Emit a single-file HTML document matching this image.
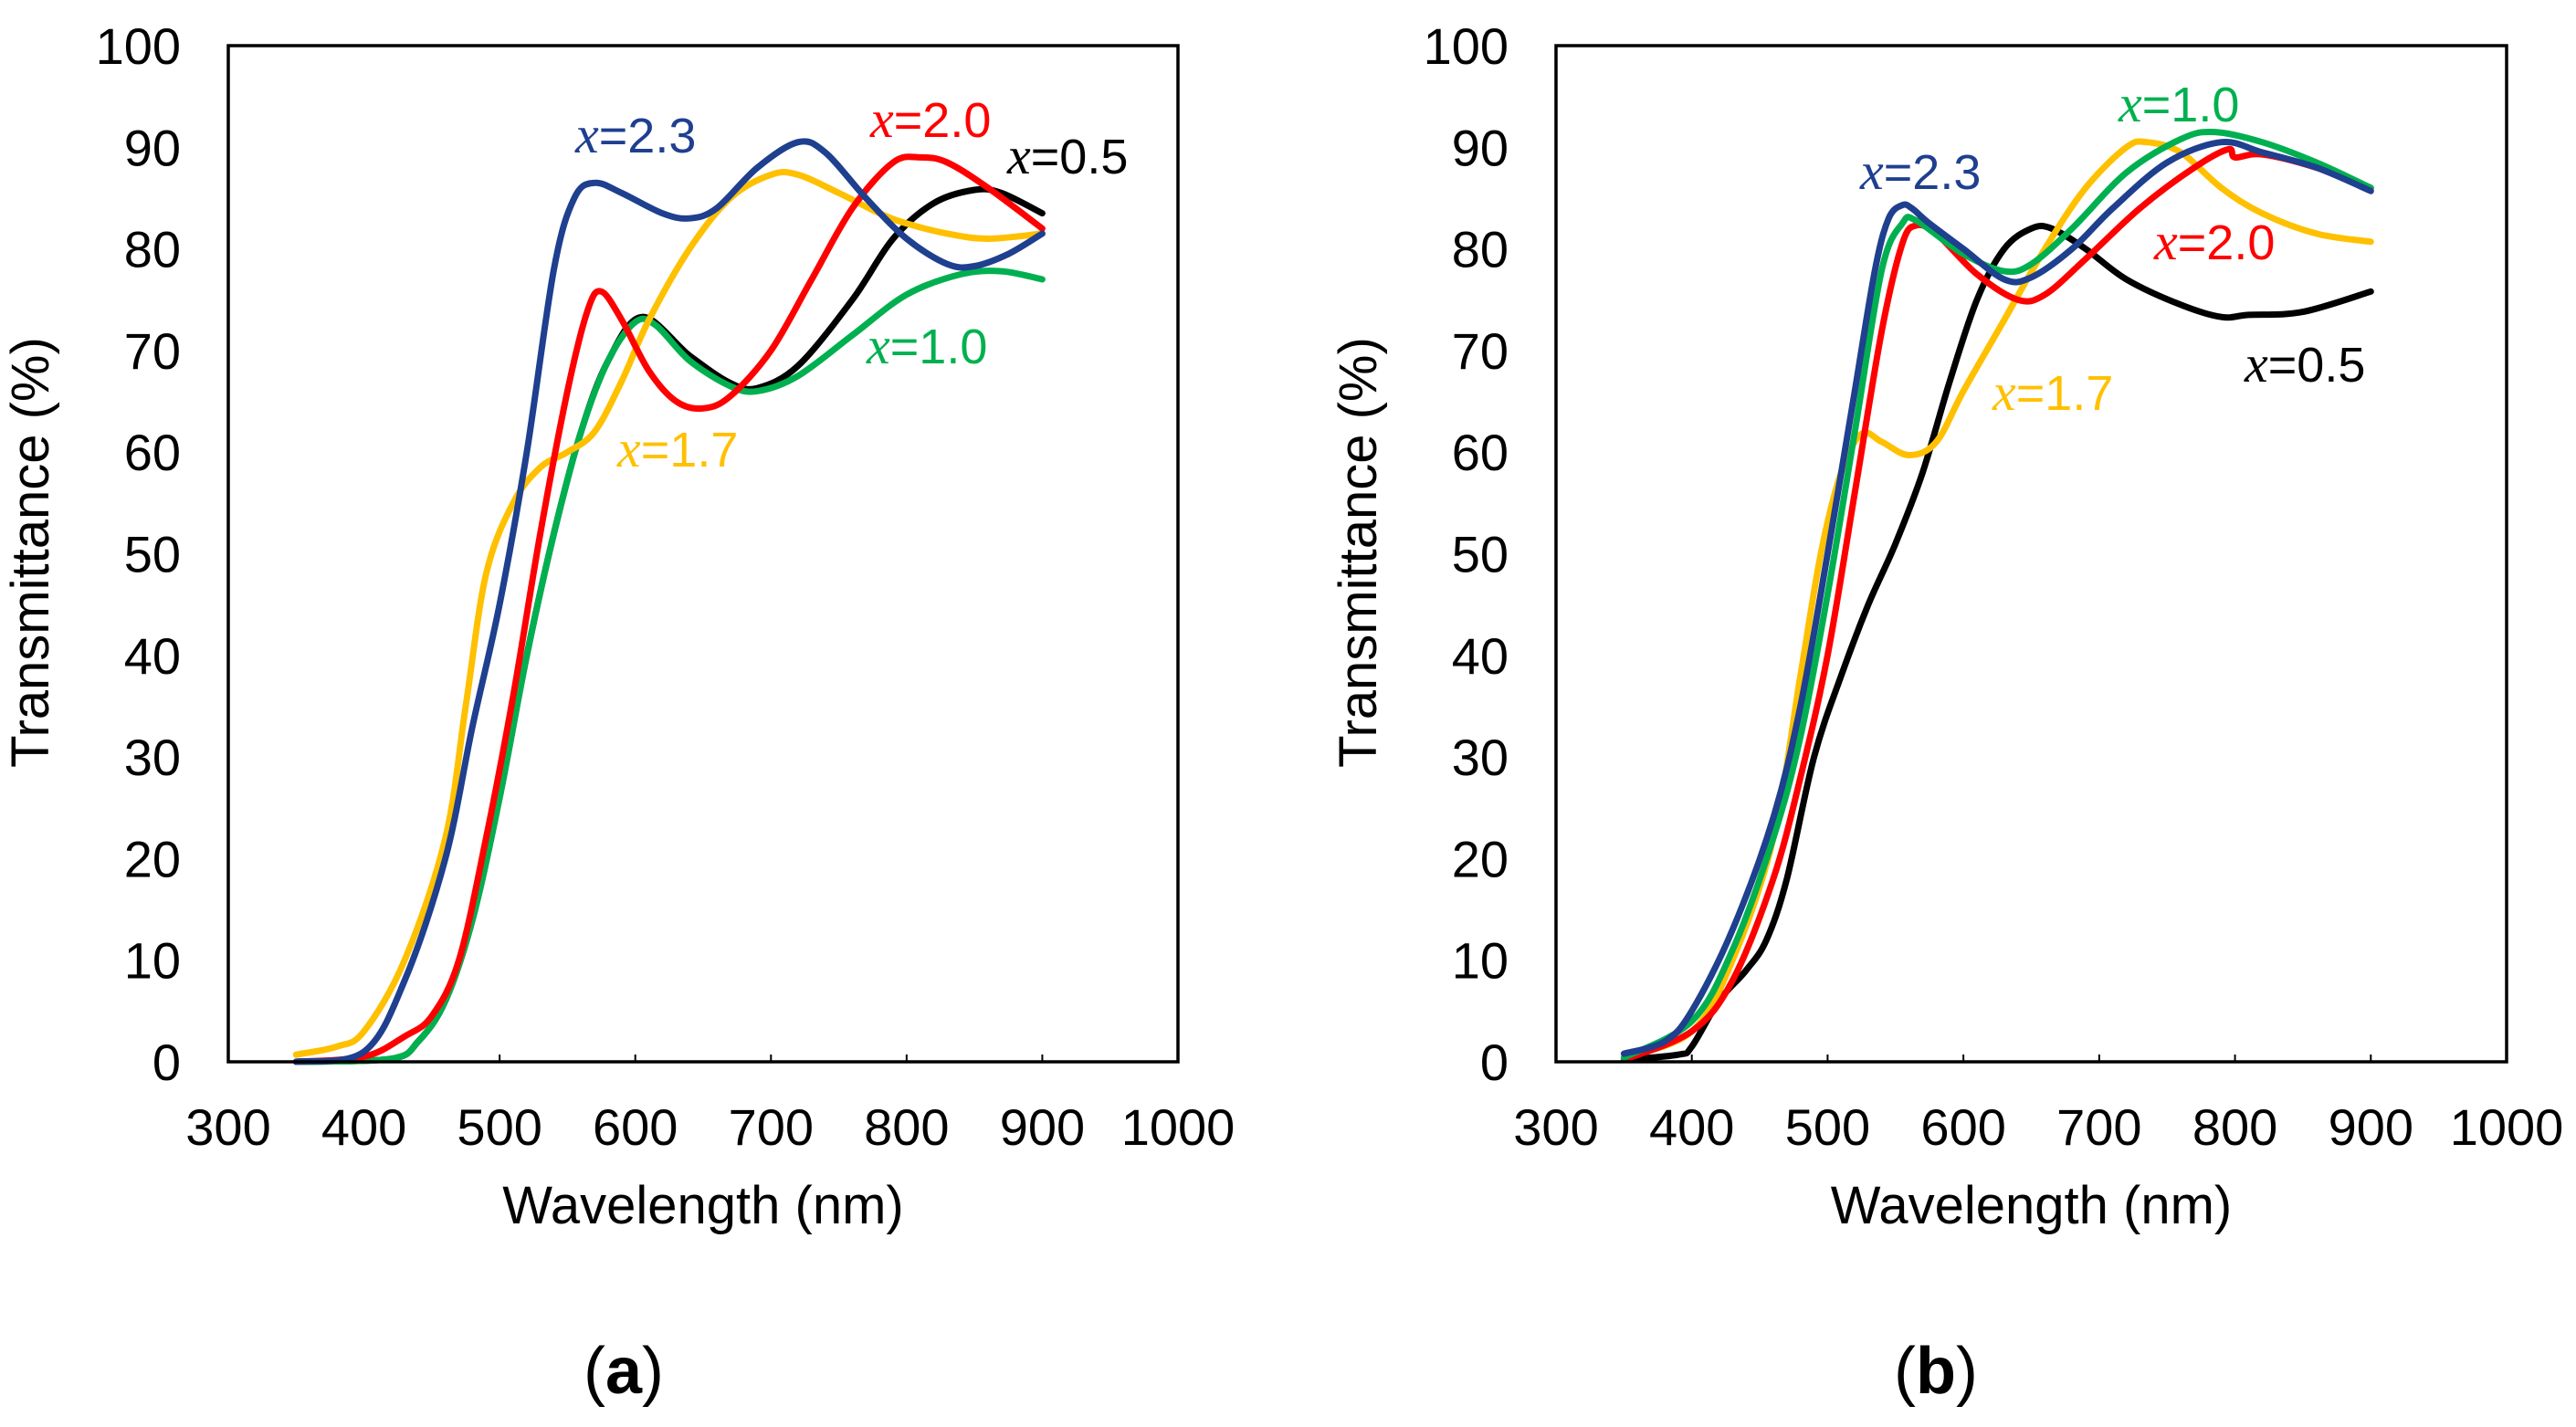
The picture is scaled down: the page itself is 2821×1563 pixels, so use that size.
<!DOCTYPE html>
<html><head><meta charset="utf-8"><style>
body{margin:0;background:#fff}
svg{display:block}
text{font-family:"Liberation Sans",sans-serif}
</style></head><body>
<svg id="c" width="2821" height="1563" viewBox="0 0 2821 1563" xmlns="http://www.w3.org/2000/svg"></svg>
<script>
const xTicks=[300,400,500,600,700,800,900,1000];
const yTicks=[0,10,20,30,40,50,60,70,80,90,100];
const colors={k:'#000000',g:'#00b050',b:'#1f3f8f',r:'#ff0000',y:'#ffc000'};
// panel (a)
const aBlueX=[350,400,430,460,480,500,520,540,555,570,590,620,640,660,690,720,740,770,800,830,850,875,900];
const aBlueY=[0,1,8,20,33,45,60,78,85,86.5,85.5,83.5,83,84,88,90.5,89.5,85,81,78.5,78.3,79.5,81.5];
const aYelX=[350,380,400,430,460,475,490,510,530,550,570,590,610,640,670,700,720,750,780,800,830,860,900];
const aYelY=[0.7,1.5,3,10,22,35,48,55,58.5,60,62,67,73,80,85,87.3,87.3,85.5,83.5,82.5,81.5,81,81.5];
const aRedX=[350,400,430,450,470,490,510,530,550,565,575,590,610,630,650,670,700,730,760,790,810,830,860,900];
const aRedY=[0,0.5,2.5,4.5,10,22,36,52,66,74,75.8,73,68,65,64.3,65.5,70,77,84,88.5,89,88.5,86,82];
const aGrnX=[350,420,440,460,480,500,520,540,560,580,600,615,640,670,690,720,760,800,840,870,900];
const aGrnY=[0,0.3,2,6,14,26,40,52,62,69,72.8,72.5,69,66.5,66,67.5,71.5,75.5,77.5,77.8,77];
const aBlkX=[350,420,440,460,480,500,520,540,560,580,605,640,670,690,720,760,790,820,850,870,900];
const aBlkY=[0,0.3,2,6,14,26,40,52,62,69,73.3,69.5,66.8,66.3,68.5,75,81,84.5,85.8,85.5,83.5];
// panel (b)
const bBlueX=[350,380,400,430,460,480,500,520,535,545,555,562,575,600,630,650,680,710,750,790,820,860,900];
const bBlueY=[0.8,2,5,13,24,35,50,66,78,83,84.3,84,82.5,80,77,77.2,80,84,88.5,90.5,89.5,88,85.7];
const bGrnX=[350,400,430,460,480,500,520,540,555,565,600,630,650,680,720,760,785,820,860,900];
const bGrnY=[0.4,4,11,22,32,46,62,78,82.5,82.8,79.5,77.8,78.5,82,87.5,90.8,91.5,90.5,88.5,86];
const bRedX=[350,400,430,460,480,500,520,540,555,565,580,610,640,660,690,730,770,795,800,820,860,900];
const bRedY=[0.2,3,8,18,28,40,56,72,80.5,82.3,81.5,77.5,75,75.5,79,84,88,89.8,89,89.3,88,86];
const bYelX=[350,400,430,460,480,495,510,525,540,560,580,600,630,660,690,720,735,760,790,820,860,900];
const bYelY=[0.4,3,10,22,38,50,58,61.8,61,59.7,61,66,73,80,86,90,90.5,89.5,86,83.5,81.5,80.7];
const bBlkX=[350,390,400,420,440,455,470,490,510,530,550,570,590,610,630,650,665,690,720,760,790,810,850,900];
const bBlkY=[0.2,0.7,1.5,6,9,12,18,30,38,45,51,58,67,75,80,82,82,80,77,74.5,73.3,73.5,73.8,75.8];

const NS='http://www.w3.org/2000/svg';
const svg=document.getElementById('c');
function mk(tag,attrs,parent){const e=document.createElementNS(NS,tag);for(const k in attrs)e.setAttribute(k,attrs[k]);(parent||svg).appendChild(e);return e;}
function path(pts){let d='M'+pts[0][0].toFixed(1)+' '+pts[0][1].toFixed(1);
 for(let i=0;i<pts.length-1;i++){const p0=pts[Math.max(0,i-1)],p1=pts[i],p2=pts[i+1],p3=pts[Math.min(pts.length-1,i+2)];
  const c1=[p1[0]+(p2[0]-p0[0])/6,p1[1]+(p2[1]-p0[1])/6],c2=[p2[0]-(p3[0]-p1[0])/6,p2[1]-(p3[1]-p1[1])/6];
  d+=` C${c1[0].toFixed(1)} ${c1[1].toFixed(1)} ${c2[0].toFixed(1)} ${c2[1].toFixed(1)} ${p2[0].toFixed(1)} ${p2[1].toFixed(1)}`;}
 return d;}
function panel(id,L,R,T,B,series,labels,titleX,tag,tagX){
 const g=mk('g',{});
 
 
 const sx=v=>L+(v-300)/700*(R-L), sy=v=>B-v/100*(B-T);
 xTicks.forEach(v=>{
  const t=mk('text',{x:sx(v),y:1254,'font-size':56,'text-anchor':'middle',fill:'#000'},g);t.textContent=v;
  
  
  const tk=mk('line',{x1:sx(v),x2:sx(v),y1:B,y2:B-8,stroke:'#000','stroke-width':2},g);
  
  
 });
 yTicks.forEach(v=>{
  const t=mk('text',{x:L-52,y:sy(v)+20,'font-size':56,'text-anchor':'end',fill:'#000'},g);t.textContent=v;
  
  
 });
 series.forEach(s=>{
  const pts=s.x.map((v,i)=>[sx(v),sy(s.y[i])]);
  const p=mk('path',{d:path(pts),fill:'none',stroke:s.c,'stroke-width':7,'stroke-linejoin':'round','stroke-linecap':'round'},g);
  
  
 });
 const box=mk('rect',{x:L,y:T,width:R-L,height:B-T,fill:'none',stroke:'#000','stroke-width':3.5},g);
 
 
 const xt=mk('text',{x:(L+R)/2,y:1340,'font-size':58,'text-anchor':'middle',fill:'#000'},g);xt.textContent='Wavelength (nm)';
 
 
 const yt=mk('text',{x:0,y:0,'font-size':58,'text-anchor':'middle',fill:'#000',transform:`translate(${titleX},605) rotate(-90)`},g);yt.textContent='Transmittance (%)';
 
 
 labels.forEach(l=>{
  const t=mk('text',{x:l[0],y:l[1],'font-size':54,fill:l[3]},g);
  const i=mk('tspan',{'font-family':'Liberation Serif, serif','font-style':'italic','font-size':58},t);i.textContent='x';
  const r=mk('tspan',{},t);r.textContent='='+l[2];
  
  
 });
 const tg=mk('text',{x:tagX,y:1526,'font-size':72,'text-anchor':'middle',fill:'#000','font-family':'Liberation Serif, serif'},g);
 const a=mk('tspan',{},tg);a.textContent='(';
 const bb=mk('tspan',{'font-weight':'bold'},tg);bb.textContent=tag;
 const c=mk('tspan',{},tg);c.textContent=')';
 
 
}
panel('a',250,1290,50,1163,[
 {n:'x0.5',c:colors.k,x:aBlkX,y:aBlkY},{n:'x1.0',c:colors.g,x:aGrnX,y:aGrnY},
 {n:'x1.7',c:colors.y,x:aYelX,y:aYelY},{n:'x2.0',c:colors.r,x:aRedX,y:aRedY},{n:'x2.3',c:colors.b,x:aBlueX,y:aBlueY}],
 [[630,167,'2.3',colors.b],[953,150,'2.0',colors.r],[1103,190,'0.5',colors.k],[949,398,'1.0',colors.g],[676,511,'1.7',colors.y]],
 53,'a',683);
panel('b',1704,2745,50,1163,[
 {n:'x0.5',c:colors.k,x:bBlkX,y:bBlkY},{n:'x1.7',c:colors.y,x:bYelX,y:bYelY},{n:'x2.0',c:colors.r,x:bRedX,y:bRedY},
 {n:'x1.0',c:colors.g,x:bGrnX,y:bGrnY},{n:'x2.3',c:colors.b,x:bBlueX,y:bBlueY}],
 [[2037,207,'2.3',colors.b],[2320,133,'1.0',colors.g],[2359,284,'2.0',colors.r],[2458,418,'0.5',colors.k],[2182,449,'1.7',colors.y]],
 1507,'b',2120);
</script>
</body></html>
